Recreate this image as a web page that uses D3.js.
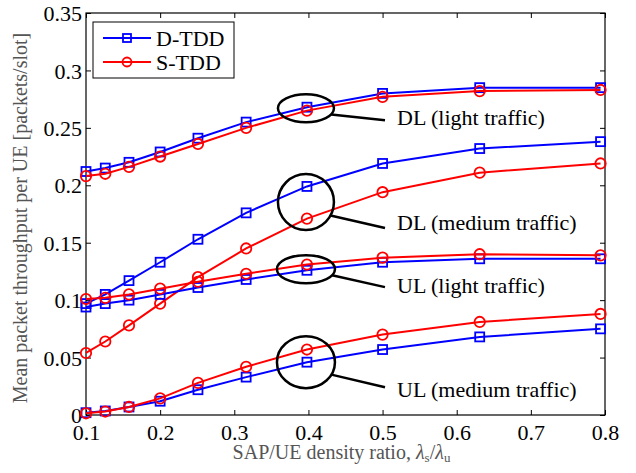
<!DOCTYPE html>
<html>
<head>
<meta charset="utf-8">
<script src="https://cdn.jsdelivr.net/npm/d3@7"></script>
<style>
  body { margin: 0; background: #fff; }
</style>
</head>
<body>
<svg id="chart" width="636" height="473"></svg>
<script>
// SAP/UE density ratio (log spaced points)
var ratios = [0.1, 0.126, 0.158, 0.2, 0.251, 0.316, 0.398, 0.5, 0.631, 0.794];

// throughput values
var dlLightD = [0.212, 0.215, 0.220, 0.229, 0.241, 0.255, 0.268, 0.280, 0.285, 0.285];
var dlLightS = [0.208, 0.210, 0.216, 0.225, 0.236, 0.250, 0.265, 0.277, 0.282, 0.283];
var dlMedD   = [0.097, 0.105, 0.117, 0.133, 0.153, 0.176, 0.199, 0.219, 0.232, 0.238];
var dlMedS   = [0.054, 0.064, 0.078, 0.097, 0.120, 0.145, 0.171, 0.194, 0.211, 0.219];
var ulLightD = [0.094, 0.097, 0.100, 0.105, 0.111, 0.118, 0.126, 0.133, 0.136, 0.136];
var ulLightS = [0.101, 0.102, 0.105, 0.110, 0.116, 0.123, 0.131, 0.137, 0.140, 0.139];
var ulMedD   = [0.002, 0.0035, 0.007, 0.012, 0.022, 0.033, 0.046, 0.057, 0.068, 0.075];
var ulMedS   = [0.0015, 0.003, 0.007, 0.0145, 0.028, 0.042, 0.057, 0.070, 0.081, 0.088];

var xTicks = [0.1, 0.2, 0.3, 0.4, 0.5, 0.6, 0.7, 0.8];
var yTicks = [0, 0.05, 0.1, 0.15, 0.2, 0.25, 0.3, 0.35];

var schemes = ["D-TDD", "S-TDD"];
var annLabels = ["DL (light traffic)", "DL (medium traffic)", "UL (light traffic)", "UL (medium traffic)"];
var annCenters = [0.267, 0.1854, 0.127, 0.046];

var serif = "Liberation Serif";
var svg = d3.select("#chart").attr("font-family", serif);
var pl = 86, pr = 605, pt = 13, pb = 415;

var x = d3.scaleLinear().domain([0.1, 0.8]).range([pl, pr]);
var y = d3.scaleLinear().domain([0, 0.35]).range([pb, pt]);

var blue = "#0000ff", red = "#ff0000";

// ticks on all four sides, pointing inward
svg.append("g").attr("transform", "translate(0," + pb + ")")
  .call(d3.axisBottom(x).tickValues(xTicks).tickSizeInner(-5).tickSizeOuter(0).tickFormat(d3.format("")))
  .call(g => g.select(".domain").remove())
  .call(g => g.selectAll("text").attr("dy", null).attr("y", 25).style("font-size", "22px").attr("fill", "#000"));
svg.append("g").attr("transform", "translate(0," + pt + ")")
  .call(d3.axisTop(x).tickValues(xTicks).tickSizeInner(-5).tickSizeOuter(0).tickFormat(""))
  .call(g => g.select(".domain").remove());
svg.append("g").attr("transform", "translate(" + pl + ",0)")
  .call(d3.axisLeft(y).tickValues(yTicks).tickSizeInner(-5).tickSizeOuter(0).tickFormat(d3.format("")))
  .call(g => g.select(".domain").remove())
  .call(g => g.selectAll("text").attr("x", -4).attr("dy", "0.35em").style("font-size", "22px").attr("fill", "#000"));
svg.append("g").attr("transform", "translate(" + pr + ",0)")
  .call(d3.axisRight(y).tickValues(yTicks).tickSizeInner(-5).tickSizeOuter(0).tickFormat(""))
  .call(g => g.select(".domain").remove());

svg.append("rect").attr("x", pl).attr("y", pt)
  .attr("width", pr - pl).attr("height", pb - pt)
  .attr("fill", "none").attr("stroke", "#000").attr("stroke-width", 1.2);

// curves
var line = d3.line().x((d, i) => x(ratios[i])).y(d => y(d));
var series = [
  {v: dlLightD, c: blue, m: "sq"}, {v: dlLightS, c: red, m: "ci"},
  {v: dlMedD, c: blue, m: "sq"}, {v: dlMedS, c: red, m: "ci"},
  {v: ulLightD, c: blue, m: "sq"}, {v: ulLightS, c: red, m: "ci"},
  {v: ulMedD, c: blue, m: "sq"}, {v: ulMedS, c: red, m: "ci"}
];

series.forEach(function(s) {
  svg.append("path").datum(s.v).attr("d", line)
    .attr("fill", "none").attr("stroke", s.c).attr("stroke-width", 2);
  if (s.m == "sq") {
    svg.selectAll(null).data(s.v).enter().append("rect")
      .attr("x", (d, i) => x(ratios[i]) - 4.5).attr("y", d => y(d) - 4.5)
      .attr("width", 9).attr("height", 9)
      .attr("fill", "none").attr("stroke", s.c).attr("stroke-width", 1.8);
  } else {
    svg.selectAll(null).data(s.v).enter().append("circle")
      .attr("cx", (d, i) => x(ratios[i])).attr("cy", d => y(d)).attr("r", 5.2)
      .attr("fill", "none").attr("stroke", s.c).attr("stroke-width", 1.8);
  }
});

// annotations: ellipse round the 0.4 points, leader, label
var ellSize = [[28, 14], [28, 28], [29, 14], [29, 26]];
var leadEnd = [12, 26, 18, 25];
var textOff = [17, 28, 24, 35];
annLabels.forEach(function(lab, i) {
  var cx = x(0.398) - 1, cy = y(annCenters[i]);
  var rx = ellSize[i][0], ry = ellSize[i][1];
  var a = ry > 20 ? 0.5 : 0.45;
  svg.append("ellipse").attr("cx", cx).attr("cy", cy).attr("rx", rx).attr("ry", ry)
    .attr("fill", "none").attr("stroke", "#000").attr("stroke-width", 2.5);
  var sx = cx + rx * Math.cos(a), sy = cy + ry * Math.sin(a);
  svg.append("line").attr("x1", sx).attr("y1", sy)
    .attr("x2", 385).attr("y2", cy + leadEnd[i])
    .attr("stroke", "#000").attr("stroke-width", 2.5);
  svg.append("text").attr("x", 397).attr("y", cy + textOff[i])
    .style("font-size", "22px").text(lab);
});

// legend
svg.append("rect").attr("x", 93).attr("y", 22).attr("width", 141).attr("height", 56)
  .attr("fill", "#fff").attr("stroke", "#000").attr("stroke-width", 1);
schemes.forEach(function(name, i) {
  var ly = 38 + i * 24, col = i == 0 ? blue : red;
  svg.append("line").attr("x1", 103).attr("x2", 151).attr("y1", ly).attr("y2", ly)
    .attr("stroke", col).attr("stroke-width", 2);
  if (i == 0) {
    svg.append("rect").attr("x", 123).attr("y", ly - 4).attr("width", 8).attr("height", 8)
      .attr("fill", "none").attr("stroke", col).attr("stroke-width", 1.8);
  } else {
    svg.append("circle").attr("cx", 127).attr("cy", ly).attr("r", 4.5)
      .attr("fill", "none").attr("stroke", col).attr("stroke-width", 1.8);
  }
  svg.append("text").attr("x", 156).attr("y", ly + 8).style("font-size", "22px").text(name);
});

// axis titles
var xt = svg.append("text").attr("x", (pl + pr) / 2 - 4).attr("y", 459)
  .attr("text-anchor", "middle").style("font-size", "20px").attr("fill", "#555");
xt.append("tspan").text("SAP/UE density ratio, ");
xt.append("tspan").style("font-style", "italic").text("λ");
xt.append("tspan").attr("baseline-shift", "-25%").style("font-size", "13px").text("s");
xt.append("tspan").text("/");
xt.append("tspan").style("font-style", "italic").text("λ");
xt.append("tspan").attr("baseline-shift", "-25%").style("font-size", "13px").text("u");

svg.append("text").attr("transform", "translate(27," + ((pt + pb) / 2 + 4) + ") rotate(-90)")
  .attr("text-anchor", "middle").style("font-size", "20px").attr("fill", "#555")
  .text("Mean packet throughput per UE [packets/slot]");

svg.selectAll("text").style("font-family", serif);
</script>
</body>
</html>
